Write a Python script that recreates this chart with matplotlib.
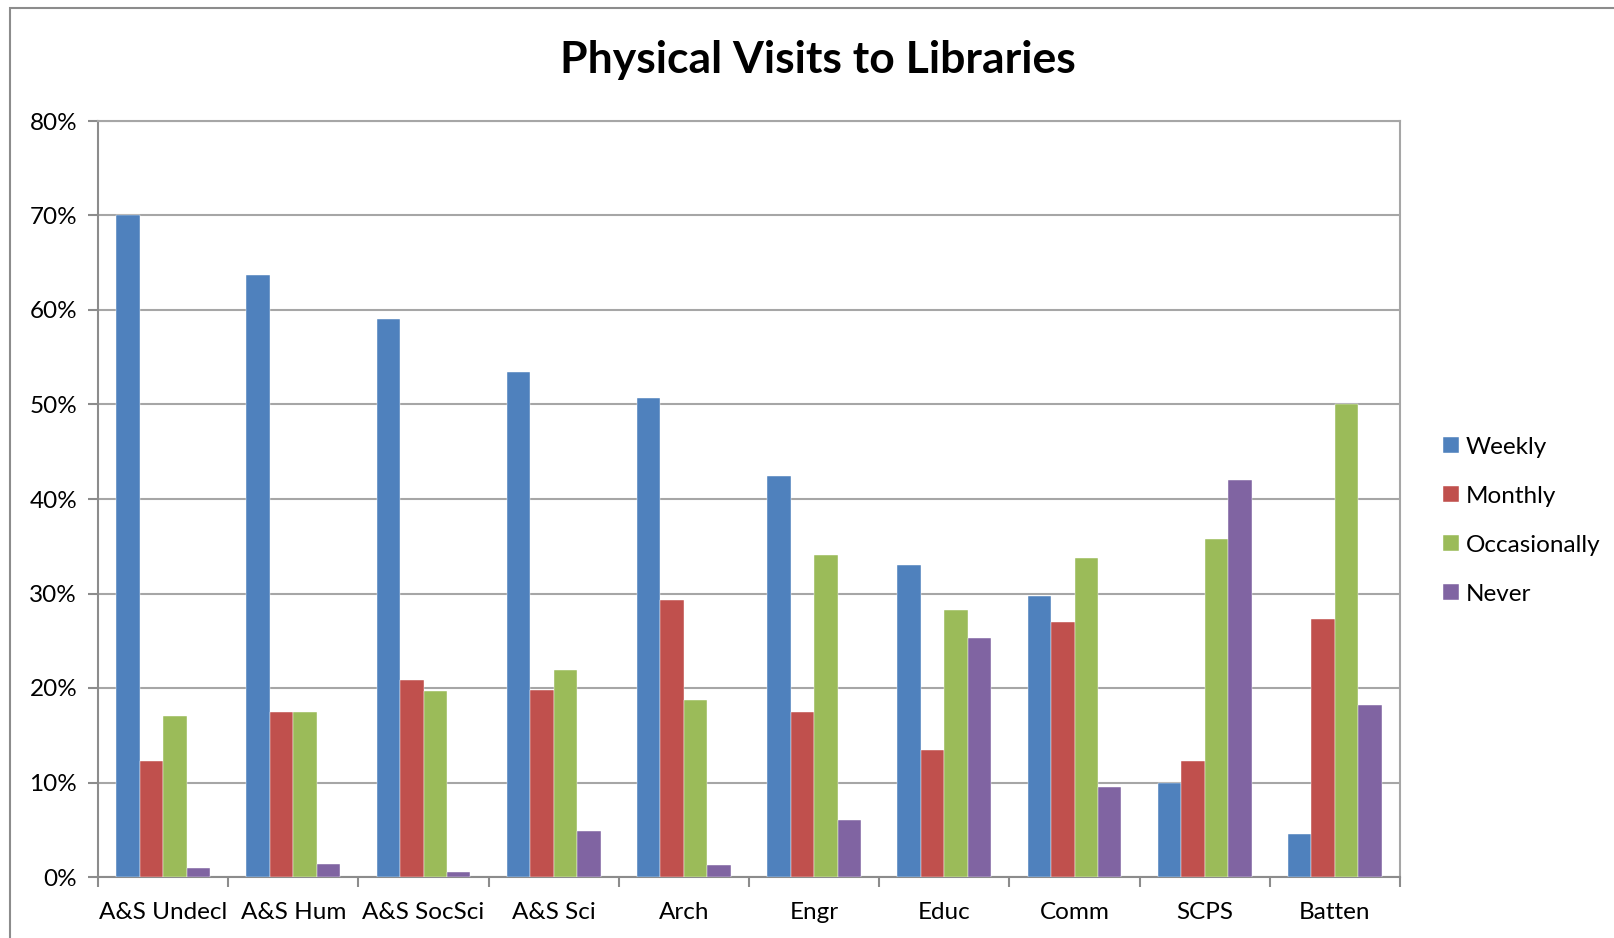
import matplotlib.pyplot as plt
import numpy as np
from matplotlib.patches import Rectangle
from matplotlib.ticker import FuncFormatter

plt.rcParams['font.family'] = ['Lato', 'DejaVu Sans']

categories = ["A&S Undecl", "A&S Hum", "A&S SocSci", "A&S Sci", "Arch",
              "Engr", "Educ", "Comm", "SCPS", "Batten"]
weekly = [70.0, 63.7, 59.0, 53.4, 50.7, 42.4, 33.0, 29.7, 9.9, 4.5]
monthly = [12.3, 17.5, 20.8, 19.8, 29.3, 17.5, 13.4, 27.0, 12.3, 27.3]
occasionally = [17.0, 17.5, 19.7, 21.9, 18.7, 34.1, 28.3, 33.8, 35.8, 50.0]
never = [0.9, 1.4, 0.5, 4.9, 1.3, 6.0, 25.3, 9.5, 42.0, 18.2]

series = [("Weekly", weekly, "#4F81BD"),
          ("Monthly", monthly, "#C0504D"),
          ("Occasionally", occasionally, "#9BBB59"),
          ("Never", never, "#8064A2")]

W, H = 1614, 938
fig = plt.figure(figsize=(W / 100, H / 100), dpi=100)

# chart area frame
fig.patches.append(Rectangle((10 / W, -0.05), 1.2, 1 - 8 / H + 0.05,
                             transform=fig.transFigure, fill=False,
                             edgecolor="#8c8c8c", linewidth=1.5))

ax = fig.add_axes([98 / W, 1 - 877 / H, (1400 - 98) / W, (877 - 121) / H])

x = np.arange(len(categories))
bw = 0.18
for i, (name, vals, col) in enumerate(series):
    ax.bar(x + (i - 1.5) * bw, vals, width=bw, color=col, label=name,
           edgecolor="white", linewidth=0.3, zorder=3)

ax.set_xlim(-0.5, len(categories) - 0.5)
ax.set_ylim(0, 80)
ax.set_yticks(range(0, 81, 10))
ax.yaxis.set_major_formatter(FuncFormatter(lambda v, p: f"{int(v)}%"))
ax.grid(axis="y", color="#a6a6a6", linewidth=1.5, zorder=0)

ax.set_xticks(x)
ax.set_xticklabels(categories)
ax.set_xticks(np.arange(-0.5, len(categories)), minor=True)
ax.tick_params(axis="x", which="major", length=0, pad=18, labelsize=17.5)
ax.tick_params(axis="x", which="minor", length=7, width=1.5, color="#8c8c8c")
ax.tick_params(axis="y", length=7, width=1.5, color="#8c8c8c", pad=8, labelsize=17.5)

for s in ax.spines.values():
    s.set_color("#a6a6a6")
    s.set_linewidth(1.5)
ax.spines["left"].set_color("#8c8c8c")
ax.spines["bottom"].set_color("#8c8c8c")

fig.text(818 / W, 1 - 60 / H, "Physical Visits to Libraries", ha="center",
         va="center", fontsize=32, fontweight="bold")

leg = fig.legend(loc="upper left", bbox_to_anchor=(1433 / W, 1 - 427 / H),
                 frameon=False, fontsize=17.5, handlelength=0.65, handleheight=0.65,
                 handletextpad=0.3, labelspacing=1.15, borderaxespad=0)

fig.savefig("out.png", dpi=100)
